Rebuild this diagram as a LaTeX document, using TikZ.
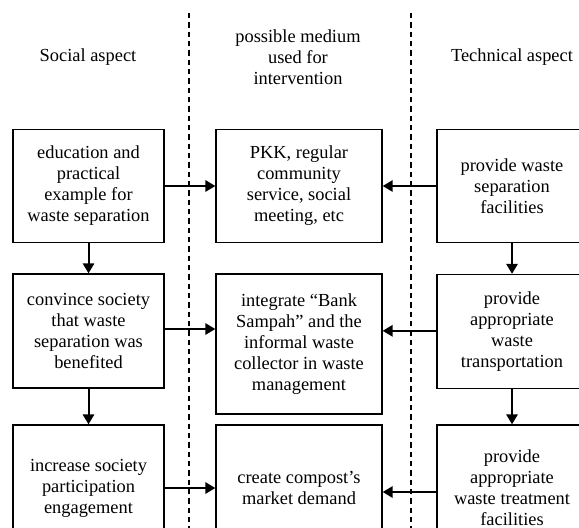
\documentclass[tikz,border=0pt]{standalone}
\usepackage{fontspec}
\setmainfont{Liberation Serif}
\usetikzlibrary{arrows.meta,calc}
\begin{document}
\begin{tikzpicture}[x=0.75pt,y=-0.75pt,
  txt/.style={font=\fontsize{13.8pt}{15.75pt}\selectfont,align=center,inner sep=0pt},
  box/.style={txt,draw,line width=1pt},
  lbox/.style={box,minimum width=151*0.75pt},
  mbox/.style={box,minimum width=166*0.75pt},
  rbox/.style={box,minimum width=150*0.75pt},
  arr/.style={line width=1.5pt,-{Triangle[length=7.5pt,width=8.5pt]}},
  sep/.style={line width=1pt,dash pattern=on 4pt off 3pt}]
\useasboundingbox (0,0) rectangle (579,528);
\clip (0,0) rectangle (579,528);
% headers
\node[txt] (hs) at (88,57) {Social aspect};
\node[txt] (hm) at (298,57) {possible medium\\used for\\intervention};
\node[txt] (ht) at (512,57) {Technical aspect};
% dashed separators
\coordinate (d1a) at (189,13); \coordinate (d1b) at (189,540);
\coordinate (d2a) at (411,13); \coordinate (d2b) at (411,540);
\draw[sep] (d1a) -- (d1b);
\draw[sep] (d2a) -- (d2b);
% row 1
\node[lbox,minimum height=113*0.75pt] (s1) at (88.5,186) {education and\\practical\\example for\\waste separation};
\node[mbox,minimum height=113*0.75pt] (m1) at (299,186) {PKK, regular\\community\\service, social\\meeting, etc};
\node[rbox,minimum height=113*0.75pt] (t1) at (512,186) {provide waste\\separation\\facilities};
% row 2
\node[lbox,minimum height=114*0.75pt] (s2) at (88.5,331) {convince society\\that waste\\separation was\\benefited};
\node[mbox,minimum height=140*0.75pt] (m2) at (299,344) {integrate “Bank\\Sampah” and the\\informal waste\\collector in waste\\management};
\node[rbox,minimum height=114*0.75pt] (t2) at (512,331.5) {provide\\appropriate\\waste\\transportation};
% row 3
\node[lbox,minimum height=126*0.75pt] (s3) at (88.5,488) {increase society\\participation\\engagement};
\node[mbox,minimum height=126*0.75pt] (m3) at (299,488) {create compost’s\\market demand};
\node[rbox,minimum height=126*0.75pt] (t3) at (512,488) {provide\\appropriate\\waste treatment\\facilities};
% vertical arrows
\draw[arr] (s1.south) -- (s2.north);
\draw[arr] (s2.south) -- (s3.north);
\draw[arr] (t1.south) -- (t2.north);
\draw[arr] (t2.south) -- (t3.north);
% horizontal arrows
\draw[arr] (s1.east) -- (s1.east -| m1.west);
\draw[arr] (t1.west) -- (t1.west -| m1.east);
\draw[arr] ([yshift=1.5pt]s2.east) -- ([yshift=1.5pt]s2.east -| m2.west);
\draw[arr] ([yshift=0.5pt]t2.west) -- ([yshift=0.5pt]t2.west -| m2.east);
\draw[arr] (s3.east) -- (s3.east -| m3.west);
\draw[arr] ([yshift=-3pt]t3.west) -- ([yshift=-3pt]t3.west -| m3.east);
\end{tikzpicture}
\end{document}
